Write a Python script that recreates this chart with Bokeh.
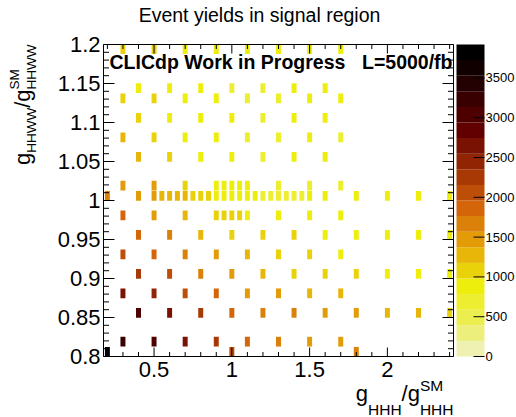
import math
import numpy as np
from bokeh.plotting import figure
from bokeh.models import Range1d, ColumnDataSource, LinearColorMapper
from bokeh.core.properties import value
from bokeh.embed import file_html
from bokeh.resources import INLINE

# ---------------- data ----------------
title_text = "Event yields in signal region"
x_tick_vals = [0.5, 1.0, 1.5, 2.0]
x_tick_labels = ["0.5", "1", "1.5", "2"]
x_minor = [0.2, 0.3, 0.4, 0.6, 0.7, 0.8, 0.9, 1.1, 1.2, 1.3, 1.4, 1.6, 1.7, 1.8, 1.9, 2.1, 2.2, 2.3, 2.4]
y_tick_vals = [0.8, 0.85, 0.9, 0.95, 1.0, 1.05, 1.1, 1.15, 1.2]
y_tick_labels = ["0.8", "0.85", "0.9", "0.95", "1", "1.05", "1.1", "1.15", "1.2"]
y_minor = [round(0.8 + 0.01 * k, 2) for k in range(41) if k % 5 != 0]
z_tick_vals = [0, 500, 1000, 1500, 2000, 2500, 3000, 3500]
z_tick_labels = ["0", "500", "1000", "1500", "2000", "2500", "3000", "3500"]
z_max = 3920
n_levels = 20
x_lo, x_hi = 0.175, 2.425
y_lo, y_hi = 0.8, 1.2

# g_HHH columns
ghhh_odd = [0.3, 0.5, 0.7, 0.9, 1.1, 1.3, 1.5, 1.7]
ghhh_even = [0.4, 0.6, 0.8, 1.0, 1.2, 1.4, 1.6]
ghhh_even_wide = [0.4, 0.6, 0.8, 1.0, 1.2, 1.4, 1.6, 1.8, 2.0, 2.2, 2.4]
ghhh_fine_a = [0.3, 0.5, 0.7, 0.9, 0.95, 1.0, 1.05, 1.1, 1.3, 1.5, 1.7]
ghhh_fine_b = [0.2, 0.4, 0.5, 0.55, 0.6, 0.65, 0.7, 0.75, 0.8, 0.85, 0.9, 0.95, 1.0,
               1.05, 1.1, 1.15, 1.2, 1.25, 1.3, 1.35, 1.4, 1.45, 1.5, 1.6, 1.8, 2.0, 2.2, 2.4]
ghhh_edge = [0.2, 1.0, 1.8]

# event yields per g_HHWW row (cell centres)
n_1194 = [1050, 1000, 920, 850, 820, 850, 880, 900]
n_1144 = [900, 880, 850, 750, 700, 800, 850]
n_1131 = [1150, 1050, 920, 820, 720, 720, 800, 880]
n_1106 = [1080, 960, 900, 800, 720, 800, 850]
n_1081 = [1350, 1100, 950, 850, 750, 720, 800, 760]
n_1056 = [1300, 1100, 950, 800, 750, 850, 850]
n_1019 = [1450, 1380, 1150, 950, 900, 880, 850, 800, 720, 760, 720]
n_1006 = [1750, 1450, 1400, 1350, 1300, 1250, 1200, 1100, 1100, 1050, 950, 900, 880,
          850, 850, 800, 760, 720, 760, 760, 760, 760, 800, 850, 900, 900, 900, 900]
n_0981 = [1850, 1450, 1250, 1050, 1000, 1000, 990, 900, 880, 880, 800]
n_0956 = [1850, 1650, 1300, 1150, 1050, 980, 900, 900, 900, 880, 880]
n_0931 = [2150, 1950, 1650, 1450, 1250, 1150, 980, 900]
n_0906 = [2250, 2050, 1650, 1450, 1250, 1150, 1150, 1000, 900, 900, 900]
n_0881 = [2650, 2450, 2050, 1800, 1450, 1400, 1300, 1200]
n_0856 = [2950, 2550, 2250, 1850, 1650, 1650, 1500, 1400, 1200, 1200, 1150]
n_0819 = [3250, 2950, 2650, 2250, 1850, 1650, 1450, 1400]
n_0806 = [3920, 2050, 1650]

rows = [
    (1.194, ghhh_odd, n_1194), (1.144, ghhh_even, n_1144), (1.131, ghhh_odd, n_1131),
    (1.106, ghhh_even, n_1106), (1.081, ghhh_odd, n_1081), (1.056, ghhh_even, n_1056),
    (1.019, ghhh_fine_a, n_1019), (1.006, ghhh_fine_b, n_1006), (0.981, ghhh_fine_a, n_0981),
    (0.956, ghhh_even_wide, n_0956), (0.931, ghhh_odd, n_0931), (0.906, ghhh_even_wide, n_0906),
    (0.881, ghhh_odd, n_0881), (0.856, ghhh_even_wide, n_0856), (0.819, ghhh_odd, n_0819),
    (0.806, ghhh_edge, n_0806),
]

xs, ys, ns = [], [], []
for gy, gx, n in rows:
    xs += list(gx)
    ys += [gy] * len(gx)
    ns += list(n)

# ---------------- palette (inverted dark body radiator, 20 contours) ----------------
stops = [0.0, 0.125, 0.25, 0.375, 0.5, 0.625, 0.75, 0.875, 1.0]
red = [0, 45, 99, 156, 212, 230, 237, 234, 242]
green = [0, 0, 0, 45, 101, 168, 238, 238, 243]
blue = [0, 1, 1, 3, 9, 8, 11, 95, 230]
ncol = 255
levels = []
for i in range(n_levels):
    idx = min(int((i + 0.99) * ncol / n_levels), ncol - 1)
    s = 1.0 - idx / (ncol - 1)
    r = int(round(np.interp(s, stops, red)))
    g = int(round(np.interp(s, stops, green)))
    b = int(round(np.interp(s, stops, blue)))
    levels.append("#%02x%02x%02x" % (r, g, b))

FONT = "Liberation Sans"

# ---------------- layout (window pixels) ----------------
W, H = 516, 417
FL, FR, FT, FB = 103, 453, 44, 356          # plot frame edges
CB_L, CB_R = 456, 484                        # colour bar edges
kx = (FR - FL) / (x_hi - x_lo)
ky = (FB - FT) / (y_hi - y_lo)
kz = (FB - FT) / z_max

p = figure(width=W, height=H,
           x_range=Range1d(x_lo - FL / kx, x_hi + (W - FR) / kx),
           y_range=Range1d(y_lo - (H - FB) / ky, y_hi + FT / ky),
           output_backend="svg", toolbar_location=None,
           min_border_left=0, min_border_right=0, min_border_top=0, min_border_bottom=0,
           x_axis_location=None, y_axis_location=None)
p.extra_x_ranges = {"px": Range1d(0, W)}
p.extra_y_ranges = {"z": Range1d(-(H - FB) / kz, z_max + FT / kz), "py": Range1d(H, 0)}
p.grid.visible = False
p.outline_line_color = None
p.background_fill_color = "white"
p.border_fill_color = "white"

# cells
mapper = LinearColorMapper(palette=levels, low=0, high=z_max)
src = ColumnDataSource(dict(x=xs, y=ys, n=ns))
p.rect(x="x", y="y", width=0.032, height=0.0125, source=src,
       fill_color={"field": "n", "transform": mapper}, line_color=None)

# frame
p.quad(left=x_lo, right=x_hi, bottom=y_lo, top=y_hi, fill_color=None, line_color="black", line_width=1)


# ticks (inside, on all four sides)
def ticks(xv, yv, length, angle):
    p.ray(x=xv, y=yv, length=length, length_units="screen", angle=angle, line_color="black", line_width=1)


ticks(x_tick_vals, [y_lo] * len(x_tick_vals), 9, math.pi / 2)
ticks(x_minor, [y_lo] * len(x_minor), 4.5, math.pi / 2)
ticks(x_tick_vals, [y_hi] * len(x_tick_vals), 9, -math.pi / 2)
ticks(x_minor, [y_hi] * len(x_minor), 4.5, -math.pi / 2)
ticks([x_lo] * len(y_tick_vals), y_tick_vals, 11, 0)
ticks([x_lo] * len(y_minor), y_minor, 5.5, 0)
ticks([x_hi] * len(y_tick_vals), y_tick_vals, 11, math.pi)
ticks([x_hi] * len(y_minor), y_minor, 5.5, math.pi)

# tick labels
p.text(x=x_tick_vals, y=[y_lo] * len(x_tick_vals), text=x_tick_labels, text_font=value(FONT),
       text_font_size="22px", text_align="center", text_baseline="top", y_offset=5, text_color="black")
p.text(x=[x_lo] * len(y_tick_vals), y=y_tick_vals, text=y_tick_labels, text_font=value(FONT),
       text_font_size="22px", text_align="right", text_baseline="middle", x_offset=-3, text_color="black")

# colour bar
edges = np.linspace(0, z_max, n_levels + 1)
p.quad(left=CB_L, right=CB_R, bottom=edges[:-1], top=edges[1:], fill_color=levels, line_color=None,
       x_range_name="px", y_range_name="z")
p.ray(x=[CB_R] * len(z_tick_vals), y=z_tick_vals, length=11, length_units="screen", angle=math.pi,
      line_color="black", line_width=1, x_range_name="px", y_range_name="z")
p.text(x=[CB_R + 1] * len(z_tick_vals), y=z_tick_vals, text=z_tick_labels, text_font=value(FONT),
       text_font_size="13px", text_baseline="middle", text_align="left", text_color="black",
       x_range_name="px", y_range_name="z")

MID = 0.3465  # em distance from alphabetic baseline to the middle of the text box


# free texts, placed in window pixels (x right, y down); (sx, sy) is the baseline point
def lab(text, sx, sy, size, align="left", bold=False, rotated=False):
    if rotated:
        px, py, ang = sx - MID * size, sy, math.pi / 2
    else:
        px, py, ang = sx, sy - MID * size, 0.0
    p.text(x=[px], y=[py], text=[text], text_font=value(FONT), text_font_size="%gpx" % size,
           text_font_style="bold" if bold else "normal", text_color="black",
           text_align=align, text_baseline="middle", angle=ang,
           x_range_name="px", y_range_name="py")


lab(title_text, 259, 21, 19.5, align="center")
lab("CLICdp Work in Progress", 109, 68, 19.5, bold=True)
lab("L=5000/fb", 452, 68, 19.5, align="right", bold=True)

adv = {"g": 0.556, "H": 0.722, "W": 0.944, "/": 0.278, "S": 0.667, "M": 0.833}


def tw(s, size):
    return sum(adv[c] for c in s) * size


BIG = 22
# x-axis title  g_HHH / g^SM_HHH  (right aligned to frame right)
SX_SUB = 15.5
sub_x = "HHH"
tot = tw("g", BIG) + tw(sub_x, SX_SUB) + tw("/", BIG) + tw("g", BIG) + max(tw("SM", SX_SUB), tw(sub_x, SX_SUB))
cx = FR - tot
bl_main, bl_sub, bl_sup = 401, 414, 390
lab("g", cx, bl_main, BIG); cx += tw("g", BIG)
lab(sub_x, cx, bl_sub, SX_SUB); cx += tw(sub_x, SX_SUB)
lab("/", cx, bl_main, BIG); cx += tw("/", BIG)
lab("g", cx, bl_main, BIG); cx += tw("g", BIG)
lab("SM", cx, bl_sup, SX_SUB)
lab(sub_x, cx, bl_sub, SX_SUB)

# y-axis title  g_HHWW / g^SM_HHWW  (rotated, ends at frame top)
SY_SUB = 13.5
sub_y = "HHWW"
tot = tw("g", BIG) + tw(sub_y, SY_SUB) + tw("/", BIG) + tw("g", BIG) + max(tw("SM", SY_SUB), tw(sub_y, SY_SUB))
cy = FT + tot
bx_main, bx_sub, bx_sup = 30, 36, 19
lab("g", bx_main, cy, BIG, rotated=True); cy -= tw("g", BIG)
lab(sub_y, bx_sub, cy, SY_SUB, rotated=True); cy -= tw(sub_y, SY_SUB)
lab("/", bx_main, cy, BIG, rotated=True); cy -= tw("/", BIG)
lab("g", bx_main, cy, BIG, rotated=True); cy -= tw("g", BIG)
lab("SM", bx_sup, cy, SY_SUB, rotated=True)
lab(sub_y, bx_sub, cy, SY_SUB, rotated=True)

open("out.html", "w").write(file_html(p, INLINE))
